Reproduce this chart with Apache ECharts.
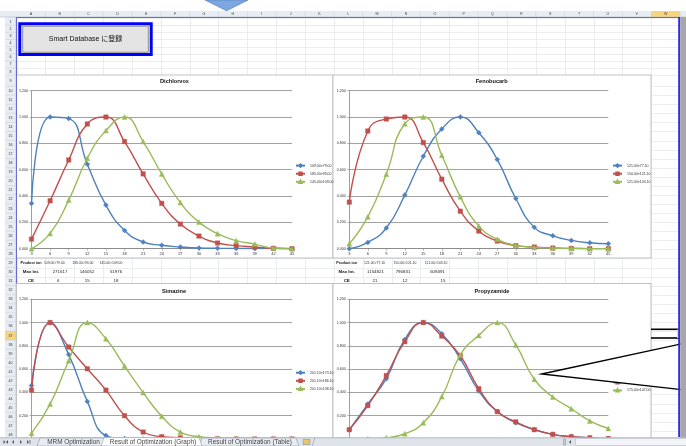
<!DOCTYPE html>
<html><head><meta charset="utf-8">
<script src="https://cdn.jsdelivr.net/npm/echarts@6/dist/echarts.min.js"></script>
<style>html,body{margin:0;padding:0;background:#fff;overflow:hidden}#c{width:686px;height:446px}</style>
</head><body><div id="c"></div>
<script>
// ---------------- DATA ----------------
const categories = ['3','6','9','12','15','18','21','24','27','30','33','36','39','42','45'];

const dichlorvosIons = ['109.00>79.00','185.00>93.00','145.00>109.00'];
const dichlorvosMaxInt = ['271617','146052','51976'];
const dichlorvosCE = ['6','15','18'];
const dichlorvos1 = [0.344,1.000,0.988,0.642,0.331,0.139,0.051,0.026,0.013,0.005,0.003,0.002,0.001,0.001,0.000];
const dichlorvos2 = [0.073,0.364,0.674,0.947,1.000,0.814,0.568,0.344,0.187,0.096,0.043,0.023,0.013,0.003,0.000];
const dichlorvos3 = [0.000,0.116,0.369,0.687,0.897,1.000,0.814,0.568,0.350,0.202,0.114,0.061,0.035,0.005,0.000];

const fenobucarbIons = ['121.00>77.10','150.00>121.10','121.00>103.10'];
const fenobucarbMaxInt = ['1154821','796831','609491'];
const fenobucarbCE = ['21','12','15'];
const fenobucarb1 = [0.000,0.048,0.157,0.407,0.702,0.909,1.000,0.881,0.677,0.381,0.162,0.098,0.063,0.045,0.038];
const fenobucarb2 = [0.354,0.894,0.985,1.000,0.806,0.528,0.285,0.134,0.058,0.023,0.013,0.005,0.002,0.000,0.000];
const fenobucarb3 = [0.038,0.242,0.566,0.949,1.000,0.710,0.394,0.172,0.071,0.025,0.010,0.005,0.002,0.000,0.000];

const simazineIons = ['201.10>173.10','201.10>186.10','201.10>138.10'];
const simazine1 = [0.460,1.000,0.725,0.323,0.030,0.004,0.001,0.000,0.000,0.000,0.000,0.000,0.000,0.000,0.000];
const simazine2 = [0.420,1.000,0.790,0.603,0.420,0.200,0.060,0.020,0.010,0.003,0.001,0.000,0.000,0.000,0.000];
const simazine3 = [0.050,0.300,0.672,1.000,0.861,0.627,0.399,0.195,0.060,0.020,0.008,0.003,0.001,0.000,0.000];

const propyzamideIons = ['173.00>145.00','173.00>109.00','175.00>147.00'];
const propyzamide1 = [0.080,0.300,0.518,0.855,1.000,0.905,0.689,0.412,0.236,0.140,0.080,0.040,0.020,0.010,0.004];
const propyzamide2 = [0.080,0.287,0.545,0.836,1.000,0.884,0.715,0.432,0.235,0.147,0.080,0.040,0.020,0.010,0.004];
const propyzamide3 = [0.000,0.002,0.010,0.045,0.140,0.364,0.722,0.890,1.000,0.808,0.513,0.361,0.260,0.155,0.090];

const chartTitles = ['Dichlorvos','Fenobucarb','Simazine','Propyzamide'];
const tableRowLabels = ['Product ion','Max Int.','CE'];
const sheetTabs = ['MRM Optimization','Result of Optimization (Graph)','Result of Optimization (Table)'];
const columnLetters = ['A','B','C','D','E','F','G','H','I','J','K','L','M','N','O','P','Q','R','S','T','U','V','W'];
const buttonLabel = 'Smart Database に登録';

// ---------------- LAYOUT ----------------
const FONT = '"Liberation Sans", Arial, sans-serif';
const colors = ['#4F81BD','#C0504D','#9BBB59'];
const symbols = ['diamond','rect','triangle'];
const symSizes = [5,4.5,5];

const panels = [
  {title:chartTitles[0], ions:dichlorvosIons, data:[dichlorvos1,dichlorvos2,dichlorvos3],
   frame:[16.5,75,316.5,183], grid:{left:31.5,top:90.7,width:260.5,height:158}, tx:174.5, ty:81.7, lx:295, ly:163.4},
  {title:chartTitles[1], ions:fenobucarbIons, data:[fenobucarb1,fenobucarb2,fenobucarb3],
   frame:[333,75,318,183], grid:{left:349.3,top:90.7,width:259,height:158}, tx:491.7, ty:81.7, lx:612, ly:163.4},
  {title:chartTitles[2], ions:simazineIons, data:[simazine1,simazine2,simazine3],
   frame:[16.5,283.5,316.5,200], grid:{left:31.5,top:299.3,width:260.5,height:158.4}, tx:174, ty:291.7, lx:295, ly:370.5},
  {title:chartTitles[3], ions:propyzamideIons, data:[propyzamide1,propyzamide2,propyzamide3],
   frame:[333,283.5,318,200], grid:{left:349.3,top:299.3,width:259,height:158.4}, tx:492, ty:291.7, lx:612, ly:372}
];

// spreadsheet geometry
const colX = k => 16.5 + k*28.85;
function rowTop(r){ if(r<=9) return 18+(r-1)*7.15; return 86.1+(r-10)*9.07; }
function rowCenter(r){ if(r===9) return 80.65; return (rowTop(r)+rowTop(r+1))/2; }

const G = [];
function rect(x,y,w,h,style,z){G.push({type:'rect',silent:true,z:z,shape:{x:x,y:y,width:w,height:h},style:style});}
function line(x1,y1,x2,y2,stroke,lw,z){G.push({type:'line',silent:true,z:z,shape:{x1:x1,y1:y1,x2:x2,y2:y2},style:{stroke:stroke,lineWidth:lw}});}
function poly(points,style,z){G.push({type:'polygon',silent:true,z:z,shape:{points:points},style:style});}
function text(t,x,y,font,fill,z,align){G.push({type:'text',silent:true,z:z,style:{text:t,x:x,y:y,font:font,fill:fill||'#222',textAlign:align||'center',textVerticalAlign:'middle'}});}

// background cells
rect(0,0,686,446,{fill:'#ffffff'},-20);
for(let r=1;r<=49;r++){ const y=Math.round(rowTop(r))+0.5; line(16,y,679,y,'#dde0e4',0.6,-19); }
for(let k=0;k<=23;k++){ const x=Math.round(colX(k))+0.5; line(x,17,x,437,'#dde0e4',0.6,-19); }
// row header
rect(5,17,11,420,{fill:'#e8edf4'},-18);
line(16,17,16,437,'#aeb9c8',0.6,-17);
for(let r=1;r<=48;r++){
  const y=rowTop(r+1);
  line(5,y,16,y,'#c5cfdc',0.5,-17);
  if(r===37) rect(5,rowTop(37),11,rowTop(38)-rowTop(37),{fill:'#f6d57f'},-17.5);
  text(String(r),10.5,rowCenter(r),'3.6px '+FONT,'#333',-16);
}
// column header
rect(0,11,686,6,{fill:'#e8edf4'},-18);
line(0,17,686,17,'#aeb9c8',0.6,-17);
rect(colX(22),11,28.85,6,{fill:'#f6d57f'},-17.5);
columnLetters.forEach((c,k)=>{
  line(colX(k+1),11,colX(k+1),17,'#c5cfdc',0.5,-17);
  text(c,colX(k)+14.4,14.2,'3.6px '+FONT,'#444',-16);
});
// blue triangle
poly([[205,0],[248,0],[226.6,10.7]],{fill:'#7ea7e2',stroke:'#5a86c8',lineWidth:0.8},-15);
// button
rect(19.8,23.8,131.4,30.6,{fill:'none',stroke:'#0000ff',lineWidth:3},-15);
rect(22.7,26.2,125.6,26,{fill:'#e4e4e4',stroke:'#8c8c8c',lineWidth:1},-15);
text(buttonLabel,85.6,39.4,'7px '+FONT+', "Noto Sans CJK JP"','#111',-14);

// chart frames, titles
panels.forEach(p=>{
  const f=p.frame;
  rect(f[0],f[1],f[2],f[3],{fill:'#ffffff',stroke:'#b4b4b4',lineWidth:0.8},-5);
  text(p.title,p.tx,p.ty,'bold 5.6px '+FONT,'#111',5);
});

// tables under the top charts
const tables = [
  {lx:31, ions:dichlorvosIons, ionX:[54.3,83,111], maxInt:dichlorvosMaxInt, maxX:[60,87,116], ce:dichlorvosCE, ceX:[58.3,87.3,116]},
  {lx:346.7, ions:fenobucarbIons, ionX:[374.5,405,436], maxInt:fenobucarbMaxInt, maxX:[375.5,403,437.5], ce:fenobucarbCE, ceX:[375,405,443]}
];
tables.forEach(t=>{
  text(tableRowLabels[0],t.lx,rowCenter(29),'bold 3.8px '+FONT,'#111',-10);
  text(tableRowLabels[1],t.lx,rowCenter(30),'bold 4.4px '+FONT,'#111',-10);
  text(tableRowLabels[2],t.lx,rowCenter(31),'bold 4.4px '+FONT,'#111',-10);
  for(let i=0;i<3;i++){
    text(t.ions[i],t.ionX[i],rowCenter(29),'3.4px '+FONT,'#333',-10);
    text(t.maxInt[i],t.maxX[i],rowCenter(30),'4.4px '+FONT,'#222',-10);
    text(t.ce[i],t.ceX[i],rowCenter(31),'4.4px '+FONT,'#222',-10);
  }
});

// page border lines
line(16,17.5,679,17.5,'#6b6bd6',1,-4);
line(16.5,17,16.5,283.5,'#6b6bd6',1,-4);

// active cell W37
line(651,329.3,679,329.3,'#000',1.6,40);
line(651,338,679,338,'#000',1.6,40);
rect(677,329.5,3,8.5,{fill:'#f2e35a'},41);

// callout
poly([[541.7,374],[690,342],[690,390.5]],{fill:'#ffffff',stroke:'#000000',lineWidth:1.3},50);

// right frame
line(679.2,17,679.2,437,'#2b2be6',2,60);
rect(680.3,17,6,421,{fill:'#a7a7a7'},60);

// sheet tab bar
rect(0,437.5,686,8.5,{fill:'#dfe4eb'},100);
line(0,437.8,686,437.8,'#9aa5b4',0.7,101);
poly([[3.5,440],[3.5,444],[5.5,442]],{fill:'#5a5a5a'},101);
poly([[8,440],[8,444],[6,442]],{fill:'#5a5a5a'},101);
poly([[14,440],[14,444],[12,442]],{fill:'#5a5a5a'},101);
poly([[20,440],[20,444],[22,442]],{fill:'#5a5a5a'},101);
poly([[27,440],[27,444],[29,442]],{fill:'#5a5a5a'},101);
line(30,440,30,444,'#5a5a5a',0.8,101);
poly([[37,446],[40,438],[104,438],[107,446]],{fill:'#e9edf2',stroke:'#8b97a8',lineWidth:0.6},102);
poly([[199,446],[202,438],[296,438],[299,446]],{fill:'#e9edf2',stroke:'#8b97a8',lineWidth:0.6},102);
poly([[101,446],[104,437.6],[199,437.6],[202,446]],{fill:'#ffffff',stroke:'#8b97a8',lineWidth:0.6},103);
text(sheetTabs[0],73.5,442.3,'6.4px '+FONT,'#444',104);
text(sheetTabs[1],153,442.3,'6.4px '+FONT,'#444',104);
text(sheetTabs[2],250,442.3,'6.4px '+FONT,'#444',104);
rect(303,439.5,7,5,{fill:'#e8c860',stroke:'#7a8aa0',lineWidth:0.5},104);
line(312,446,315,438,'#8b97a8',0.6,104);
rect(563.5,439,2,6,{fill:'#c8ced6',stroke:'#7e8896',lineWidth:0.5},104);
poly([[571,440],[571,444],[569,442]],{fill:'#5a5a5a'},104);
rect(575.5,438.5,111,7,{fill:'#f2f4f7',stroke:'#b6bec9',lineWidth:0.6},104);

// ---------------- ECHARTS OPTION ----------------
const grids=[], xAxes=[], yAxes=[], series=[], legends=[];
panels.forEach((p,i)=>{
  grids.push(Object.assign({containLabel:false},p.grid));
  xAxes.push({type:'category',gridIndex:i,data:categories,boundaryGap:false,
    axisLine:{lineStyle:{color:'#868686',width:0.8}},
    axisTick:{show:true,length:2,lineStyle:{color:'#868686',width:0.6}},
    axisLabel:{fontSize:4,color:'#333',margin:3,interval:0,fontFamily:FONT},
    splitLine:{show:false}});
  yAxes.push({type:'value',gridIndex:i,min:0,max:1.2,interval:0.2,
    axisLine:{show:true,lineStyle:{color:'#868686',width:0.8}},
    axisTick:{show:true,length:2,lineStyle:{color:'#868686',width:0.6}},
    axisLabel:{fontSize:3.6,color:'#333',margin:3.5,fontFamily:FONT,formatter:v=>v.toFixed(3)},
    splitLine:{show:true,lineStyle:{color:'#8a8a8a',width:0.8}}});
  p.ions.forEach((name,k)=>{
    series.push({type:'line',name:name,xAxisIndex:i,yAxisIndex:i,data:p.data[k],
      smooth:0.5,symbol:symbols[k],symbolSize:symSizes[k],showSymbol:true,
      lineStyle:{color:colors[k],width:1.4},
      itemStyle:{color:colors[k],borderColor:colors[k],borderWidth:0.4},
      emphasis:{disabled:true},animation:false,z:3+k});
  });
  legends.push({data:p.ions,left:p.lx,top:p.ly,orient:'vertical',itemWidth:9,itemHeight:3,itemGap:3.7,
    padding:0,selectedMode:false,textStyle:{fontSize:3.5,color:'#333',fontFamily:FONT}});
});

const chart = echarts.init(document.getElementById('c'),null,{renderer:'canvas'});
chart.setOption({
  animation:false,
  backgroundColor:'#ffffff',
  grid:grids, xAxis:xAxes, yAxis:yAxes, series:series, legend:legends,
  graphic:{elements:G}
});
</script>
</body></html>
